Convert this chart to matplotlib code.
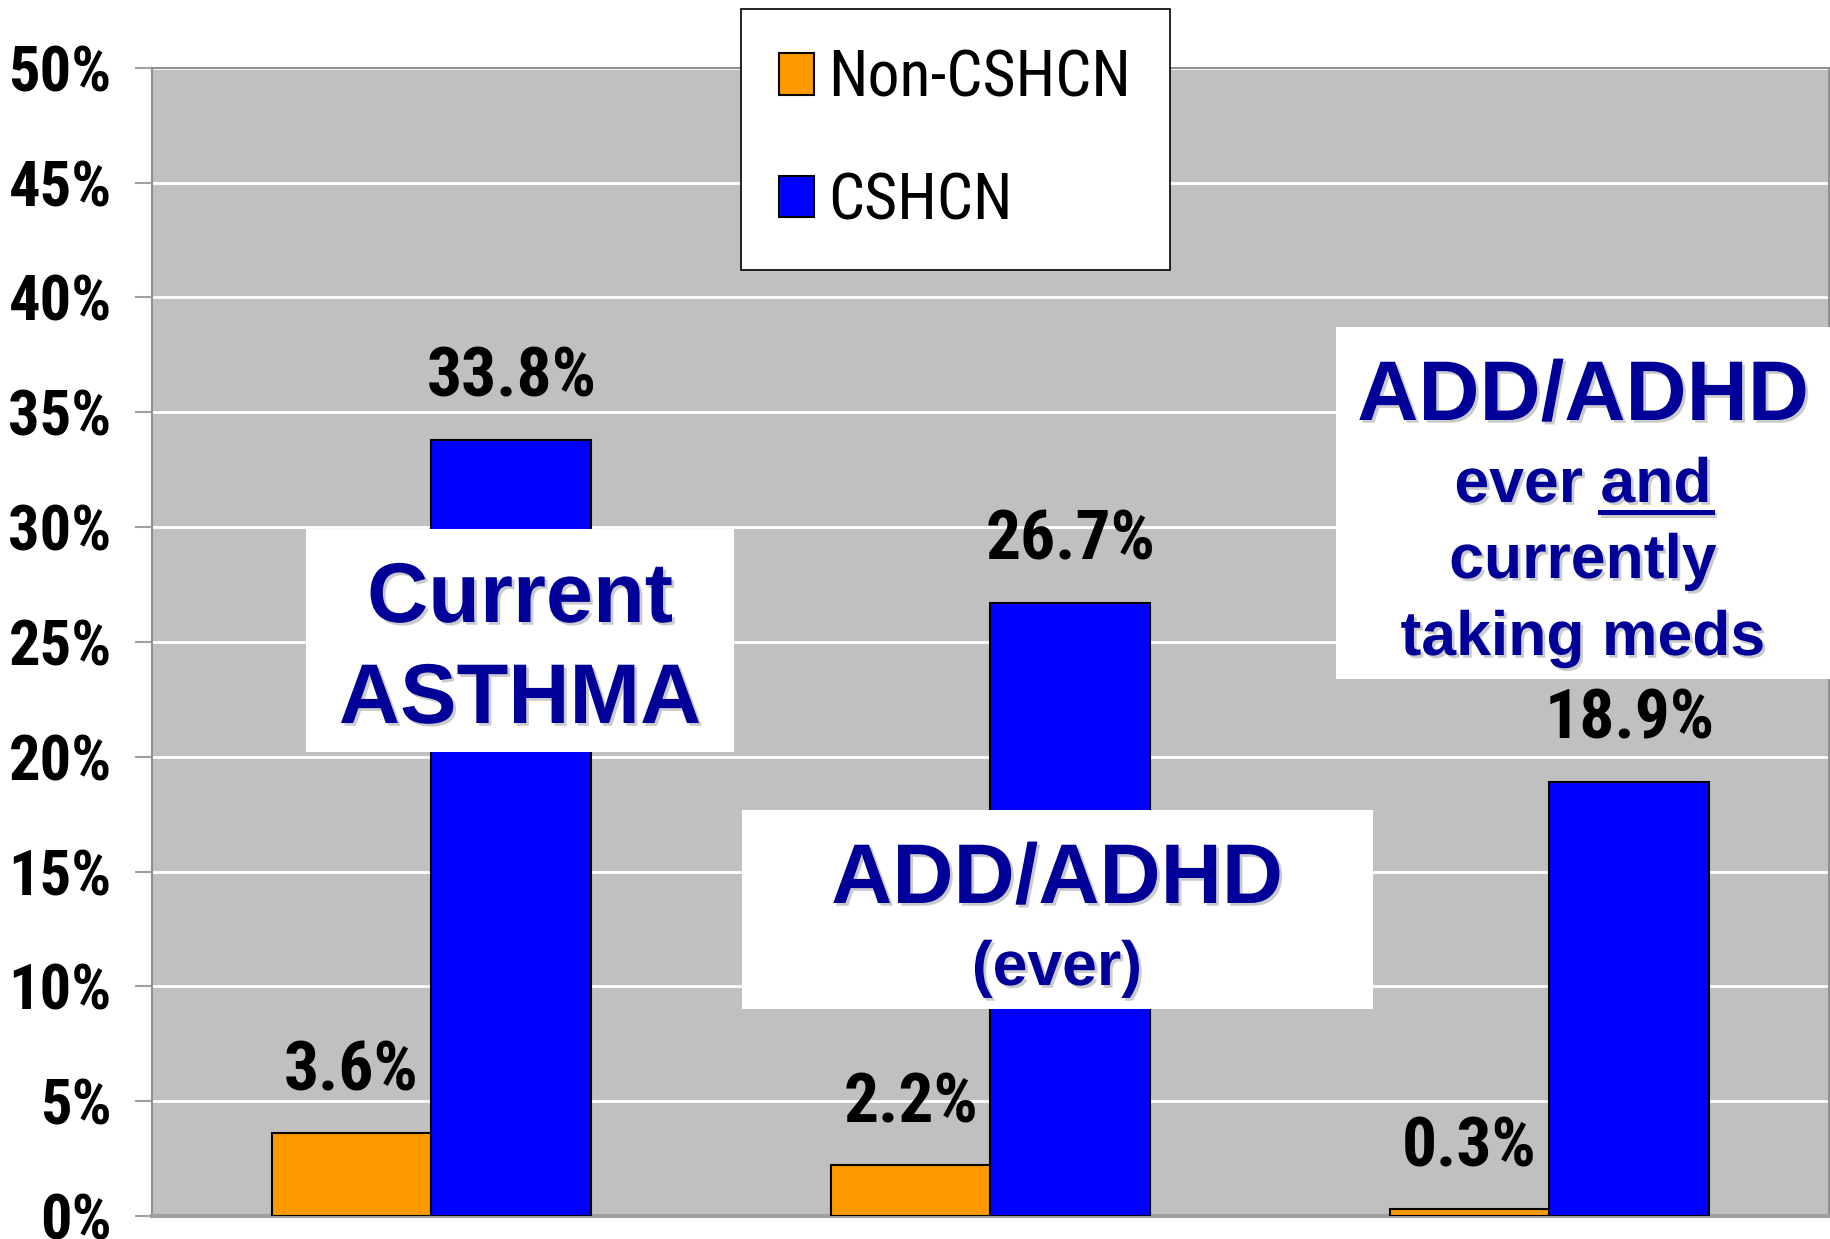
import os
import matplotlib
matplotlib.use('Agg')
import matplotlib.pyplot as plt
import matplotlib.patheffects as pe
from matplotlib import font_manager as fm
from matplotlib.patches import Rectangle
import numpy as np

# data
groups = ['Current ASTHMA', 'ADD/ADHD (ever)', 'ADD/ADHD ever and currently taking meds']
non_cshcn = [3.6, 2.2, 0.3]
cshcn = [33.8, 26.7, 18.9]
series_names = ['Non-CSHCN', 'CSHCN']
yticks = [0, 5, 10, 15, 20, 25, 30, 35, 40, 45, 50]

W, H = 1831, 1239
WIDE = ['Liberation Sans', 'DejaVu Sans']
NAVY = '#000099'


# look for a narrow / condensed face (Arial Narrow look-alike)
def find_font(bold):
    keys = ['liberationsansnarrow', 'robotocondensed', 'notosans-condensed',
            'opensans_condensed', 'opensans-condensed', 'dejavusanscondensed']
    bad = ['italic', 'oblique', 'semi', 'extra', 'light', 'medium', 'black', 'thin', '[']
    for key in keys:
        for f in fm.fontManager.ttflist:
            base = os.path.basename(f.fname).lower()
            if key not in base or any(b in base for b in bad):
                continue
            if ('bold' in base) == bold:
                return f.fname
    return None


nb = find_font(True)
nr = find_font(False)


def narrow(size, bold=True):
    path = nb if bold else nr
    if path:
        return fm.FontProperties(fname=path, size=size)
    return fm.FontProperties(family=WIDE, weight='bold' if bold else 'normal',
                             size=size * 0.85)


fig = plt.figure(figsize=(W / 100, H / 100), dpi=100)
ax = fig.add_axes([152 / W, 1 - 1216 / H, (1829 - 152) / W, (1216 - 67.7) / H])
ax.set_facecolor('#C0C0C0')

x = np.arange(len(groups))
w = 0.286
b1 = ax.bar(x - w / 2, non_cshcn, w, color='#FF9900', edgecolor='black', linewidth=1.5,
            label=series_names[0], zorder=3)
b2 = ax.bar(x + w / 2, cshcn, w, color='#0000FF', edgecolor='black', linewidth=1.5,
            label=series_names[1], zorder=3)

ax.set_xlim(-0.5, 2.5)
ax.set_ylim(0, 50)
ax.set_xticks([])
ax.set_yticks(yticks)
ax.set_yticklabels([f'{t}%' for t in yticks])
for tl in ax.get_yticklabels():
    tl.set_fontproperties(narrow(45))
ax.tick_params(axis='y', length=12, width=1.5, color='#A0A0A0', pad=17)
ax.yaxis.grid(True, color='white', linewidth=2)
ax.set_axisbelow(True)
for s in ['left', 'top', 'right']:
    ax.spines[s].set_color('#909090')
    ax.spines[s].set_linewidth(1.5)
ax.spines['bottom'].set_color('#A0A0A0')
ax.spines['bottom'].set_linewidth(3)

# value labels
for bars, vals in [(b1, non_cshcn), (b2, cshcn)]:
    for r, v in zip(bars, vals):
        ax.annotate(f'{v}%', (r.get_x() + r.get_width() / 2, v), xytext=(0, 31),
                    textcoords='offset points', ha='center', va='baseline',
                    fontproperties=narrow(50), zorder=5)

# legend
leg = ax.legend(loc='upper left', bbox_to_anchor=(741 / W, 1 - 9 / H),
                bbox_transform=fig.transFigure, frameon=True, fancybox=False,
                framealpha=1, facecolor='white', edgecolor='black',
                prop=narrow(46, bold=False), handlelength=0.55,
                handleheight=0.62, handletextpad=0.22, labelspacing=0.95,
                borderpad=0.6, borderaxespad=0)
leg.get_frame().set_linewidth(1.2)
leg.set_zorder(10)


def fx(px):
    return px / W


def fy(py):
    return 1 - py / H


shadow = [pe.SimplePatchShadow(offset=(2, -2), shadow_rgbFace='#999999', alpha=0.5), pe.Normal()]


def white_box(x0, y0, x1, y1):
    fig.patches.append(Rectangle((fx(x0), fy(y1)), fx(x1) - fx(x0), fy(y0) - fy(y1),
                                 transform=fig.transFigure, facecolor='white',
                                 edgecolor='none', zorder=6))


def label(cx, base, s, size):
    return fig.text(fx(cx), fy(base), s, ha='center', va='baseline', color=NAVY,
                    fontfamily=WIDE, fontweight='bold', fontsize=size, zorder=7,
                    path_effects=shadow)


white_box(306, 529, 734, 752)
label(520, 622, 'Current', 61)
label(520, 723, 'ASTHMA', 61)

white_box(742, 810, 1373, 1009)
label(1057, 903, 'ADD/ADHD', 61)
label(1057, 985, '(ever)', 45)

white_box(1336, 327, 1831, 679)
label(1583, 420, 'ADD/ADHD', 61)
t_and = label(1583, 502, 'ever and', 45)
label(1583, 578, 'currently', 45)
label(1583, 655, 'taking meds', 45)

# underline "and"
fig.canvas.draw()
r = fig.canvas.get_renderer()
bb = t_and.get_window_extent(r)
tmp = fig.text(0, 0, 'and', fontfamily=WIDE, fontweight='bold', fontsize=45)
wa = tmp.get_window_extent(r).width
tmp.remove()
uy = fy(512)
fig.add_artist(plt.Line2D([bb.x1 / W - wa / W, bb.x1 / W], [uy, uy], color=NAVY,
                          linewidth=3.6, transform=fig.transFigure, zorder=7,
                          path_effects=[pe.SimpleLineShadow(offset=(2, -2), shadow_color='#999999', alpha=0.5), pe.Normal()]))

fig.savefig('out.png', dpi=100)
